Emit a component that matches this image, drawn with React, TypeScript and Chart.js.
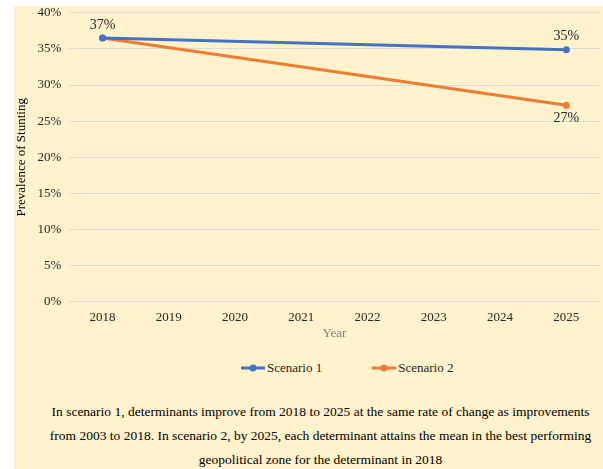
import React, { useEffect, useRef } from "react";
import { Chart, registerables } from "chart.js";

Chart.register(...registerables);

const years = ["2018", "2019", "2020", "2021", "2022", "2023", "2024", "2025"];
const scenario1 = [36.5, null, null, null, null, null, null, 34.9];
const scenario2 = [36.5, null, null, null, null, null, null, 27.2];
const seriesNames = ["Scenario 1", "Scenario 2"];
const seriesColors = ["#4472C4", "#ED7D31"];
// [datasetIndex, pointIndex, position]
const labelledPoints: [number, number, "above" | "below"][] = [
  [0, 0, "above"],
  [0, 7, "above"],
  [1, 7, "below"],
];
const captionLines = [
  "In scenario 1, determinants improve from 2018 to 2025 at the same rate of change as improvements",
  "from 2003 to 2018. In scenario 2, by 2025, each determinant attains the mean in the best performing",
  "geopolitical zone for the determinant in 2018",
];

const FONT = "'Liberation Serif', 'Times New Roman', serif";

const labelPlugin = {
  id: "pointLabels",
  afterDatasetsDraw(chart: any) {
    const ctx = chart.ctx;
    ctx.save();
    ctx.font = `14px ${FONT}`;
    ctx.fillStyle = "#262626";
    ctx.textAlign = "center";
    for (const [di, pi, pos] of labelledPoints) {
      const el = chart.getDatasetMeta(di).data[pi];
      const v = chart.data.datasets[di].data[pi] as number;
      const txt = Math.round(v) + "%";
      if (pos === "above") {
        ctx.textBaseline = "bottom";
        ctx.fillText(txt, el.x, el.y - 6);
      } else {
        ctx.textBaseline = "top";
        ctx.fillText(txt, el.x, el.y + 6);
      }
    }
    ctx.restore();
  },
};

function LegendItem({ color, text }: { color: string; text: string }) {
  return (
    <div style={{ display: "flex", alignItems: "center" }}>
      <svg width={24} height={8} style={{ display: "block" }}>
        <line x1={0} y1={4} x2={24} y2={4} stroke={color} strokeWidth={3} />
        <circle cx={12} cy={4} r={3.5} fill={color} />
      </svg>
      <span style={{ marginLeft: 2 }}>{text}</span>
    </div>
  );
}

export default function App() {
  const ref = useRef<HTMLCanvasElement>(null);
  useEffect(() => {
    const chart = new Chart(ref.current!, {
      type: "line",
      data: {
        labels: years,
        datasets: [scenario1, scenario2].map((d, i) => ({
          label: seriesNames[i],
          data: d,
          borderColor: seriesColors[i],
          backgroundColor: seriesColors[i],
          borderWidth: 3,
          pointRadius: 3.5,
          pointHoverRadius: 3.5,
          pointBorderWidth: 0,
          spanGaps: true,
          tension: 0,
        })),
      },
      options: {
        responsive: false,
        animation: false,
        events: [],
        layout: { padding: 0 },
        scales: {
          x: {
            offset: true,
            grid: { display: false },
            border: { display: false },
            ticks: { color: "#262626", font: { family: FONT, size: 13 }, padding: 0 },
            title: {
              display: true,
              text: "Year",
              color: "#7F7F7F",
              font: { family: FONT, size: 13 },
              padding: { top: 0, bottom: 0 },
            },
          },
          y: {
            min: 0,
            max: 40,
            ticks: {
              stepSize: 5,
              color: "#262626",
              font: { family: FONT, size: 13 },
              padding: 8,
              callback: (v: any) => v + "%",
            },
            grid: { color: "#D9D9D9", drawTicks: false },
            border: { display: false },
            title: {
              display: true,
              text: "Prevalence of Stunting",
              color: "#000000",
              font: { family: FONT, size: 13 },
              padding: { top: 0, bottom: 0 },
            },
          },
        },
        plugins: {
          legend: { display: false },
          tooltip: { enabled: false },
        },
      },
      plugins: [labelPlugin],
    });
    return () => chart.destroy();
  }, []);

  return (
    <div
      style={{
        position: "absolute",
        left: 14,
        top: 6,
        width: 589,
        height: 463,
        background: "#FFF2CC",
        fontFamily: FONT,
      }}
    >
      <canvas
        ref={ref}
        width={589}
        height={344}
        style={{ display: "block", position: "absolute", left: 0, top: -9 }}
      />
      <div
        style={{
          position: "absolute",
          left: 227,
          top: 354,
          display: "flex",
          gap: 50,
          fontSize: 13,
          lineHeight: "16px",
          color: "#262626",
        }}
      >
        {seriesNames.map((n, i) => (
          <LegendItem key={n} color={seriesColors[i]} text={n} />
        ))}
      </div>
      <div
        style={{
          position: "absolute",
          left: 12,
          top: 394,
          width: 589,
          textAlign: "center",
          fontSize: 13.5,
          lineHeight: "24px",
          color: "#000",
        }}
      >
        {captionLines.map((l, i) => (
          <div key={i} style={{ whiteSpace: "nowrap" }}>
            {l}
          </div>
        ))}
      </div>
    </div>
  );
}
